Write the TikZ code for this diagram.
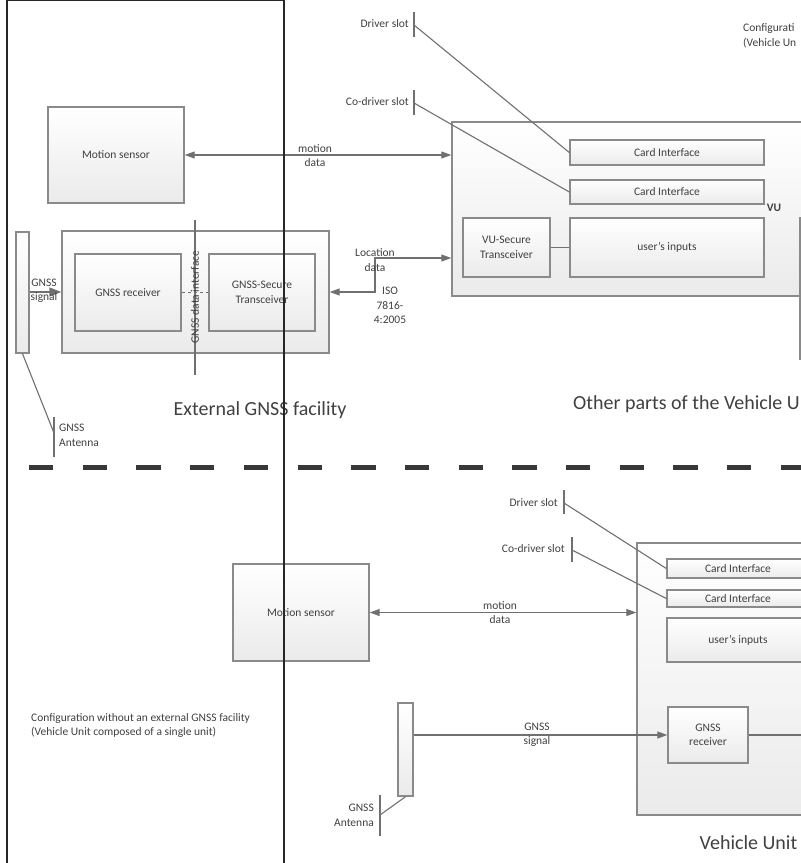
\documentclass[tikz,border=0pt]{standalone}
\usepackage{fontspec}
\setmainfont{Carlito}
\usetikzlibrary{arrows.meta}
\definecolor{txt}{HTML}{404040}
\definecolor{bord}{HTML}{8A8A8A}
\definecolor{cline}{HTML}{707070}
\newcommand{\fsm}{\fontsize{11.5}{14.5}\selectfont}
\newcommand{\fbig}{\fontsize{20}{24}\selectfont}
\tikzset{
  box/.style={draw=bord, line width=1.4pt, top color=white, bottom color=black!8,
    inner sep=0pt, align=center, text=txt, font=\fsm},
  lbl/.style={text=txt, font=\fsm, align=center, inner sep=0pt},
  conn/.style={draw=cline, line width=1.1pt},
  tipR/.style={-{Triangle[length=10pt,width=7pt]}},
  tipB/.style={{Triangle[length=10pt,width=7pt]}-{Triangle[length=10pt,width=7pt]}},
}
\begin{document}
\begin{tikzpicture}[x=1pt,y=-1pt]
\useasboundingbox (0,0) rectangle (801,863);
\clip (0,0) rectangle (801,863);

% ================= TOP: with external GNSS facility =================
\node[lbl, anchor=west, align=left] (cfgtop) at (743,36) {Configurati\\(Vehicle Un};

\node[box, minimum width=136pt, minimum height=96pt] (ms1) at (116,155) {Motion sensor};

\node[box, minimum width=378pt, minimum height=174pt] (VU1) at (641,209) {};
\node[box, minimum width=194pt, minimum height=25pt] (ci1) at (667,152.5) {Card Interface};
\node[box, minimum width=194pt, minimum height=24pt] (ci2) at (667,192) {Card Interface};
\node[box, minimum width=87pt, minimum height=59pt] (vusec) at (506.5,247.5) {VU-Secure\\Transceiver};
\node[box, minimum width=194pt, minimum height=59pt] (ui1) at (667,247.5) {user's inputs};
\node[lbl, font=\fsm\bfseries] (vul) at (774,208) {VU};
\draw[conn] (vusec.east) -- (ui1.west);
\draw[conn, draw=bord] (800,217) -- (800,360);

% slots
\node[lbl, anchor=east] (dsl1) at (409,24) {Driver slot};
\node[lbl, anchor=east] (cdsl1) at (409,102) {Co-driver slot};
\coordinate (ds1) at (414,25);
\coordinate (cds1) at (414,103);
\draw[conn] (414,12) -- (414,37);
\draw[conn] (414,90) -- (414,115);
\draw[conn] (ds1) -- (ci1.west);
\draw[conn] (cds1) -- (ci2.west);

% motion data
\draw[conn, tipB] (ms1.east) -- (ms1.east -| VU1.west);
\node[lbl] (md1) at (315,155.5) {motion\\data};

% GNSS facility
\node[box, minimum width=267pt, minimum height=122pt] (gfac) at (195.5,292) {};
\node[box, minimum width=106pt, minimum height=77pt] (grx1) at (128,292.5) {GNSS receiver};
\node[box, minimum width=106pt, minimum height=77pt] (gsec) at (262,292.5) {GNSS-Secure\\Transceiver};
\draw[conn, dashed] (grx1.east) -- (gsec.west);
\coordinate (gdiT) at (195,220);
\coordinate (gdiB) at (195,375);
\draw[conn] (gdiT) -- (gdiB);
\node[lbl, rotate=90] (gdi) at (195,297) {GNSS data interface};

% antenna top
\node[box, minimum width=13pt, minimum height=121pt] (ant1) at (22.5,292.5) {};
\draw[conn, line width=1.4pt, -{Triangle[length=12pt,width=9pt]}] (ant1.east |- gfac.west) -- (gfac.west);
\node[lbl] (gs1) at (44,291) {GNSS\\signal};
\coordinate (at1) at (54,433);
\draw[conn] (ant1.south) -- (at1);
\draw[conn] (54,417) -- (54,457);
\node[lbl, anchor=west, align=left] (antl1) at (59,435.5) {GNSS\\Antenna};

% location data
\coordinate (lk1) at (375,292);
\coordinate (lk2) at (375,258);
\draw[conn, tipB] (gfac.east) -- (lk1) -- (lk2) -- (VU1.west |- lk2);
\node[lbl] (locl) at (375,260) {Location\\data};
\node[lbl] (iso) at (390,305.5) {ISO\\7816-\\4:2005};

\node[lbl, font=\fbig] (ext) at (260,410) {External GNSS facility};
\node[lbl, font=\fbig, anchor=west] (other) at (573,404) {Other parts of the Vehicle U};

% dashed separator
\draw[line width=5pt, black!78, dash pattern=on 24.3pt off 29.4pt] (29,467) -- (840,467);

% ================= BOTTOM: single unit =================
\node[box, minimum width=136pt, minimum height=97pt] (ms2) at (301,612.5) {Motion sensor};
\node[box, minimum width=200pt, minimum height=272pt] (VU2) at (737,679) {};
\node[box, minimum width=142pt, minimum height=19pt] (ci3) at (738,568.5) {Card Interface};
\node[box, minimum width=142pt, minimum height=17pt] (ci4) at (738,598.5) {Card Interface};
\node[box, minimum width=142pt, minimum height=44pt] (ui2) at (738,640) {user's inputs};
\node[box, minimum width=80pt, minimum height=56pt] (grx2) at (708,735) {GNSS\\receiver};
\coordinate (grxout) at (840,735);
\draw[conn] (grx2.east) -- (grxout);

\draw[conn, tipB] (ms2.east) -- (ms2.east -| VU2.west);
\node[lbl] (md2) at (500,612.5) {motion\\data};

\node[lbl, anchor=east] (dsl2) at (558,503) {Driver slot};
\node[lbl, anchor=east] (cdsl2) at (565,549) {Co-driver slot};
\coordinate (ds2) at (564,503);
\coordinate (cds2) at (572,550);
\draw[conn] (564,490) -- (564,514);
\draw[conn] (572,537) -- (572,562);
\draw[conn] (ds2) -- (ci3.west);
\draw[conn] (cds2) -- (ci4.west);

\node[box, minimum width=15pt, minimum height=93pt] (ant2) at (405.5,749.5) {};
\draw[conn, tipR] (ant2.east |- grx2.west) -- (grx2.west);
\node[lbl] (gs2) at (537,734.5) {GNSS\\signal};
\coordinate (at2) at (380,815);
\draw[conn] (ant2.south) -- (at2);
\draw[conn] (380,795) -- (380,836);
\node[lbl, anchor=east, align=right] (antl2) at (374,815.5) {GNSS\\Antenna};

\node[lbl, font=\fbig] (vut) at (748.5,843) {Vehicle Unit};
\node[lbl, anchor=west, align=left] (cfgbot) at (31,725.5) {Configuration without an external GNSS facility\\(Vehicle Unit composed of a single unit)};

% black frame on top
\draw[line width=1.3pt, black!85] (7,0.7) rectangle (284,900);
\end{tikzpicture}
\end{document}
